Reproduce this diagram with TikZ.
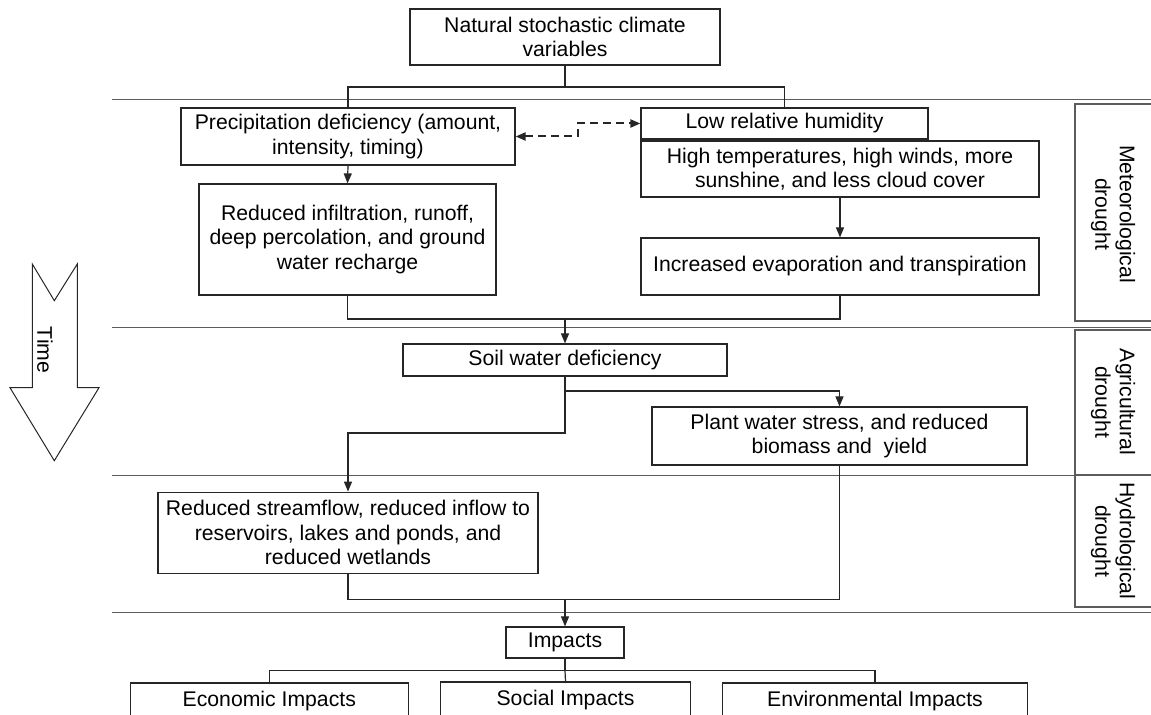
\documentclass[tikz,border=0pt]{standalone}
\usepackage{fontspec}
\setmainfont{Liberation Sans}
\usepackage{tikz}
\usetikzlibrary{
  arrows.meta,
  positioning,
  calc
}
\definecolor{drLine}{HTML}{262626}
\definecolor{drRule}{HTML}{5C5C5C}
\newcommand{\drfont}{\fontsize{10.6}{12.25}\selectfont}
\tikzset{
  drnode/.style={
    draw=drLine, line width=0.6pt, inner sep=0pt, align=center, font=\drfont
  },
  stagelabel/.style={inner sep=0pt, align=center, font=\drfont, rotate=-90},
  link/.style={draw=drLine, line width=0.6pt},
  flow/.style={link, -{Triangle[length=5pt, width=4pt]}},
  feedback/.style={link, line width=1pt, dash pattern=on 4pt off 2.5pt,
    {Triangle[length=5pt, width=4pt]}-{Triangle[length=5pt, width=4pt]}},
  rule/.style={draw=drRule, line width=0.6pt},
  timearrow/.style={draw=drLine, line width=0.5pt, fill=white}
}

\begin{document}
\begin{tikzpicture}[x=0.5pt, y=-0.5pt]
  \clip (0,0) rectangle (1151,715);

  % drought stages
  \foreach \y in {99.3, 327.5, 475.7, 612.3}
    \draw[rule] (112,\y) -- (1151,\y);
  \draw[rule] (1075,104) rectangle (1170,321);
  \draw[rule] (1075,330) rectangle (1170,475);
  \draw[rule] (1075,475) rectangle (1170,607);
  \node[stagelabel] (met) at (1113,214) {Meteorological\\drought};
  \node[stagelabel] (agri) at (1113,402) {Agricultural\\drought};
  \node[stagelabel] (hydro) at (1113,541) {Hydrological\\drought};

  % time arrow
  \draw[timearrow] (32.3,264) -- (54.3,300.7) -- (77.3,264) -- (77.3,387.7) -- (99,387.7)
    -- (54.3,460.7) -- (10,387.7) -- (32.3,387.7) -- cycle;
  \node[font=\drfont, rotate=-90] (time) at (45,350) {Time};

  % boxes
  \node[drnode, minimum width=155pt, minimum height=28pt] (nat) at (565,37)
    {Natural stochastic climate\\variables};
  \node[drnode, minimum width=167pt, minimum height=28.5pt] (prec) at (348,136.5)
    {Precipitation deficiency (amount,\\intensity, timing)};
  \node[drnode, minimum width=148.5pt, minimum height=55.5pt] (infil) at (347.5,239.5)
    {Reduced infiltration, runoff,\\deep percolation, and ground\\water recharge};
  \node[drnode, minimum width=143.5pt, minimum height=15.5pt] (lrh) at (784.5,123.5)
    {Low relative humidity};
  \node[drnode, minimum width=199pt, minimum height=28pt] (temp) at (840,169)
    {High temperatures, high winds, more\\sunshine, and less cloud cover};
  \node[drnode, minimum width=199pt, minimum height=28.5pt] (evap) at (840,266.5)
    {Increased evaporation and transpiration};
  \node[drnode, minimum width=162pt, minimum height=16pt] (soil) at (565,360)
    {Soil water deficiency};
  \node[drnode, minimum width=187.5pt, minimum height=29pt] (plant) at (839.5,436)
    {Plant water stress, and reduced\\biomass and\ \ yield};
  \node[drnode, minimum width=190pt, minimum height=40.5pt] (stream) at (348,532.7)
    {Reduced streamflow, reduced inflow to\\reservoirs, lakes and ponds, and\\reduced wetlands};
  \node[drnode, minimum width=59pt, minimum height=15.5pt] (imp) at (565,642.5)
    {Impacts};
  \node[drnode, minimum width=139pt, minimum height=18pt] (econ) at (269.3,701)
    {Economic Impacts};
  \node[drnode, minimum width=125pt, minimum height=18pt] (soc) at (565.5,700)
    {Social Impacts};
  \node[drnode, minimum width=152.5pt, minimum height=18pt] (env) at (875,701)
    {Environmental Impacts};

  % junctions
  \coordinate (j1) at (565,87);
  \coordinate (j2) at (565,319);
  \coordinate (j3) at (565,433);
  \coordinate (j4) at (565,391);
  \coordinate (j5) at (565,599.3);
  \coordinate (j6) at (565,670.7);
  \coordinate (d1) at (578,0);

  % connectors
  \draw[link] (nat.south) -- (j1) -| (prec.north);
  \draw[link] (j1) -| (lrh.north);
  \draw[flow] (prec.south) -- (infil.north);
  \draw[flow] (temp.south) -- (evap.north);
  \draw[feedback] (prec.east) -- (prec.east -| d1) |- (lrh.west);
  \draw[link] (infil.south) |- (j2) -| (evap.south);
  \draw[flow] (j2) -- (soil.north);
  \draw[flow] (soil.south) -- (j3) -| (stream.north);
  \draw[flow] (j4) -| (plant.north);
  \draw[link] (stream.south) |- (j5) -| (plant.south);
  \draw[flow] (j5) -- (imp.north);
  \draw[link] (imp.south) -- (j6) -| (econ.north);
  \draw[link] (j6) -| (env.north);
  \draw[link] (j6) -- (soc.north);
\end{tikzpicture}
\end{document}
